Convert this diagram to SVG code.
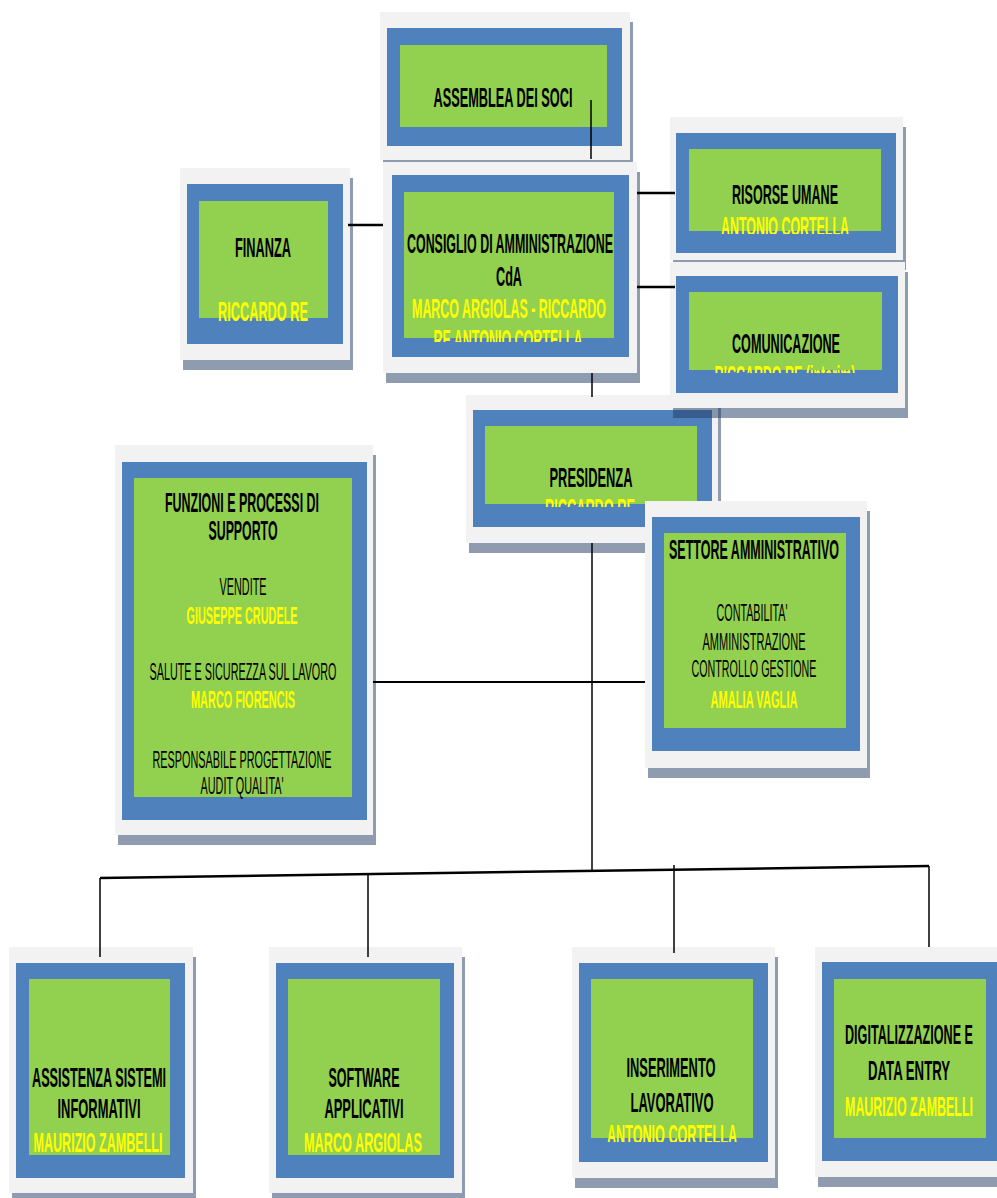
<svg xmlns="http://www.w3.org/2000/svg" width="997" height="1198" viewBox="0 0 997 1198">
<style>
.g{fill:#f2f2f2}
.b{fill:#4f81bd}
.n{fill:#92d050}
.s{fill:#1f3a5f;fill-opacity:.5}
.t{font-family:"Liberation Sans",Arial,sans-serif;font-weight:bold;font-size:28px;fill:#000;text-anchor:middle}
.y{fill:#ffff00}
.r{font-weight:normal;font-size:23px}
.ry{font-size:23px}
.c{stroke:#000;fill:none}
</style>
<defs>
<clipPath id="cCda" clipPathUnits="userSpaceOnUse"><rect x="0" y="0" width="997" height="342"/></clipPath>
<clipPath id="cRis" clipPathUnits="userSpaceOnUse"><rect x="0" y="0" width="997" height="234"/></clipPath>
<clipPath id="cCom" clipPathUnits="userSpaceOnUse"><rect x="0" y="0" width="997" height="373"/></clipPath>
<clipPath id="cPre" clipPathUnits="userSpaceOnUse"><rect x="0" y="0" width="997" height="507"/></clipPath>
<clipPath id="cIns" clipPathUnits="userSpaceOnUse"><rect x="0" y="0" width="997" height="1142"/></clipPath>
<clipPath id="cFin" clipPathUnits="userSpaceOnUse"><rect x="0" y="0" width="997" height="322"/></clipPath>
</defs>

<g id="assemblea">
<rect class="s" x="383" y="22" width="250" height="148"/>
<rect class="g" x="380" y="12" width="250" height="148"/>
<rect class="b" x="387" y="28" width="235" height="118"/>
<rect class="n" x="400" y="45" width="207" height="82"/>
<text class="t" x="503" y="107" textLength="139" lengthAdjust="spacingAndGlyphs">ASSEMBLEA DEI SOCI</text>
</g>

<g id="finanza">
<rect class="s" x="183" y="178" width="170" height="192"/>
<rect class="g" x="180" y="168" width="170" height="192"/>
<rect class="b" x="187" y="184" width="156" height="160"/>
<rect class="n" x="199" y="201" width="129" height="117"/>
<text class="t" x="263" y="257" textLength="56" lengthAdjust="spacingAndGlyphs">FINANZA</text>
<text class="t y" x="263" y="321" textLength="90" lengthAdjust="spacingAndGlyphs" clip-path="url(#cFin)">RICCARDO RE</text>
</g>

<g id="cda">
<rect class="s" x="386" y="172" width="254" height="211"/>
<rect class="g" x="383" y="162" width="254" height="211"/>
<rect class="b" x="392" y="175" width="237" height="182"/>
<rect class="n" x="404" y="192" width="210" height="146"/>
<text class="t" x="510" y="253" textLength="206" lengthAdjust="spacingAndGlyphs">CONSIGLIO DI AMMINISTRAZIONE</text>
<text class="t" x="509" y="286" textLength="26" lengthAdjust="spacingAndGlyphs">CdA</text>
<text class="t y" x="509" y="318" textLength="194" lengthAdjust="spacingAndGlyphs">MARCO ARGIOLAS - RICCARDO</text>
<text class="t y" x="508" y="349" textLength="149" lengthAdjust="spacingAndGlyphs" clip-path="url(#cCda)">RE ANTONIO CORTELLA</text>
</g>

<g id="risorse-umane">
<rect class="s" x="673" y="127" width="233" height="143"/>
<rect class="g" x="670" y="117" width="233" height="143"/>
<rect class="b" x="676" y="133" width="220" height="120"/>
<rect class="n" x="689" y="149" width="192" height="82"/>
<text class="t" x="785" y="204" textLength="106" lengthAdjust="spacingAndGlyphs">RISORSE UMANE</text>
<text class="t y" x="785" y="236" textLength="128" lengthAdjust="spacingAndGlyphs" clip-path="url(#cRis)">ANTONIO CORTELLA</text>
</g>

<g id="presidenza">
<rect class="s" x="469" y="405" width="252" height="148"/>
<rect class="g" x="466" y="395" width="252" height="148"/>
<rect class="b" x="473" y="410" width="239" height="117"/>
<rect class="n" x="485" y="426" width="212" height="78"/>
<text class="t" x="591" y="487" textLength="83" lengthAdjust="spacingAndGlyphs">PRESIDENZA</text>
<text class="t y" x="590" y="518" textLength="90" lengthAdjust="spacingAndGlyphs" clip-path="url(#cPre)">RICCARDO RE</text>
</g>

<g id="comunicazione">
<rect class="s" x="673" y="272" width="235" height="146"/>
<rect class="g" x="670" y="262" width="235" height="146"/>
<rect class="b" x="676" y="276" width="222" height="117"/>
<rect class="n" x="689" y="292" width="193" height="78"/>
<text class="t" x="786" y="353" textLength="108" lengthAdjust="spacingAndGlyphs">COMUNICAZIONE</text>
<text class="t y" x="785" y="385" textLength="141" lengthAdjust="spacingAndGlyphs" clip-path="url(#cCom)">RICCARDO RE (interim)</text>
</g>

<g id="settore-amministrativo">
<rect class="s" x="648" y="511" width="222" height="267"/>
<rect class="g" x="645" y="501" width="222" height="267"/>
<rect class="b" x="652" y="517" width="208" height="234"/>
<rect class="n" x="664" y="533" width="182" height="195"/>
<text class="t" x="754" y="559" textLength="170" lengthAdjust="spacingAndGlyphs">SETTORE AMMINISTRATIVO</text>
<text class="t r" x="752" y="621" textLength="71" lengthAdjust="spacingAndGlyphs">CONTABILITA'</text>
<text class="t r" x="754" y="650" textLength="103" lengthAdjust="spacingAndGlyphs">AMMINISTRAZIONE</text>
<text class="t r" x="754" y="677" textLength="125" lengthAdjust="spacingAndGlyphs">CONTROLLO GESTIONE</text>
<text class="t ry y" x="754" y="708" textLength="87" lengthAdjust="spacingAndGlyphs">AMALIA VAGLIA</text>
</g>

<g id="funzioni-supporto">
<rect class="s" x="118" y="455" width="258" height="390"/>
<rect class="g" x="115" y="445" width="258" height="390"/>
<rect class="b" x="122" y="462" width="245" height="358"/>
<rect class="n" x="134" y="478" width="218" height="319"/>
<text class="t" x="242" y="512" textLength="154" lengthAdjust="spacingAndGlyphs">FUNZIONI E PROCESSI DI</text>
<text class="t" x="243" y="540" textLength="69" lengthAdjust="spacingAndGlyphs">SUPPORTO</text>
<text class="t r" x="243" y="595" textLength="47" lengthAdjust="spacingAndGlyphs">VENDITE</text>
<text class="t ry y" x="242" y="624" textLength="111" lengthAdjust="spacingAndGlyphs">GIUSEPPE CRUDELE</text>
<text class="t r" x="243" y="680" textLength="187" lengthAdjust="spacingAndGlyphs">SALUTE E SICUREZZA SUL LAVORO</text>
<text class="t ry y" x="243" y="708" textLength="104" lengthAdjust="spacingAndGlyphs">MARCO FIORENCIS</text>
<text class="t r" x="242" y="768" textLength="179" lengthAdjust="spacingAndGlyphs">RESPONSABILE  PROGETTAZIONE</text>
<text class="t r" x="242" y="794" textLength="83" lengthAdjust="spacingAndGlyphs">AUDIT QUALITA'</text>
</g>

<g id="assistenza-sistemi">
<rect class="s" x="12" y="957" width="184" height="246"/>
<rect class="g" x="9" y="947" width="184" height="246"/>
<rect class="b" x="16" y="963" width="169" height="215"/>
<rect class="n" x="29" y="979" width="141" height="176"/>
<text class="t" x="99" y="1087" textLength="134" lengthAdjust="spacingAndGlyphs">ASSISTENZA SISTEMI</text>
<text class="t" x="99" y="1118" textLength="83" lengthAdjust="spacingAndGlyphs">INFORMATIVI</text>
<text class="t y" x="98" y="1152" textLength="129" lengthAdjust="spacingAndGlyphs">MAURIZIO ZAMBELLI</text>
</g>

<g id="software-applicativi">
<rect class="s" x="272" y="957" width="193" height="246"/>
<rect class="g" x="269" y="947" width="193" height="246"/>
<rect class="b" x="276" y="963" width="178" height="215"/>
<rect class="n" x="288" y="979" width="152" height="176"/>
<text class="t" x="364" y="1087" textLength="71" lengthAdjust="spacingAndGlyphs">SOFTWARE</text>
<text class="t" x="364" y="1118" textLength="79" lengthAdjust="spacingAndGlyphs">APPLICATIVI</text>
<text class="t y" x="363" y="1152" textLength="118" lengthAdjust="spacingAndGlyphs">MARCO ARGIOLAS</text>
</g>

<g id="inserimento-lavorativo">
<rect class="s" x="575" y="957" width="203" height="231"/>
<rect class="g" x="572" y="947" width="203" height="231"/>
<rect class="b" x="579" y="963" width="189" height="199"/>
<rect class="n" x="591" y="979" width="162" height="159"/>
<text class="t" x="671" y="1077" textLength="89" lengthAdjust="spacingAndGlyphs">INSERIMENTO</text>
<text class="t" x="672" y="1112" textLength="83" lengthAdjust="spacingAndGlyphs">LAVORATIVO</text>
<text class="t y" x="672" y="1144" textLength="130" lengthAdjust="spacingAndGlyphs" clip-path="url(#cIns)">ANTONIO CORTELLA</text>
</g>

<g id="digitalizzazione">
<rect class="s" x="818" y="957" width="190" height="230"/>
<rect class="g" x="815" y="947" width="190" height="230"/>
<rect class="b" x="822" y="962" width="180" height="199"/>
<rect class="n" x="834" y="979" width="152" height="159"/>
<text class="t" x="909" y="1044" textLength="128" lengthAdjust="spacingAndGlyphs">DIGITALIZZAZIONE E</text>
<text class="t" x="909" y="1080" textLength="82" lengthAdjust="spacingAndGlyphs">DATA ENTRY</text>
<text class="t y" x="909" y="1116" textLength="128" lengthAdjust="spacingAndGlyphs">MAURIZIO ZAMBELLI</text>
</g>

<g id="connectors">
<line class="c" x1="591" y1="100" x2="591" y2="159" stroke-width="1.5"/>
<line class="c" x1="348" y1="225" x2="383" y2="225" stroke-width="2.5"/>
<line class="c" x1="637" y1="193" x2="675" y2="193" stroke-width="2.5"/>
<line class="c" x1="637" y1="287" x2="675" y2="287" stroke-width="2.5"/>
<line class="c" x1="592" y1="373" x2="592" y2="397" stroke-width="1.5"/>
<line class="c" x1="592" y1="543" x2="592" y2="872" stroke-width="1.5"/>
<line class="c" x1="373" y1="682" x2="645" y2="682" stroke-width="2"/>
<line class="c" x1="100" y1="878" x2="929" y2="866" stroke-width="2.5"/>
<line class="c" x1="100" y1="878" x2="100" y2="957" stroke-width="1.5"/>
<line class="c" x1="368" y1="874" x2="368" y2="957" stroke-width="1.5"/>
<line class="c" x1="674" y1="865" x2="674" y2="953" stroke-width="1.5"/>
<line class="c" x1="929" y1="866" x2="929" y2="947" stroke-width="1.5"/>
</g>
</svg>
